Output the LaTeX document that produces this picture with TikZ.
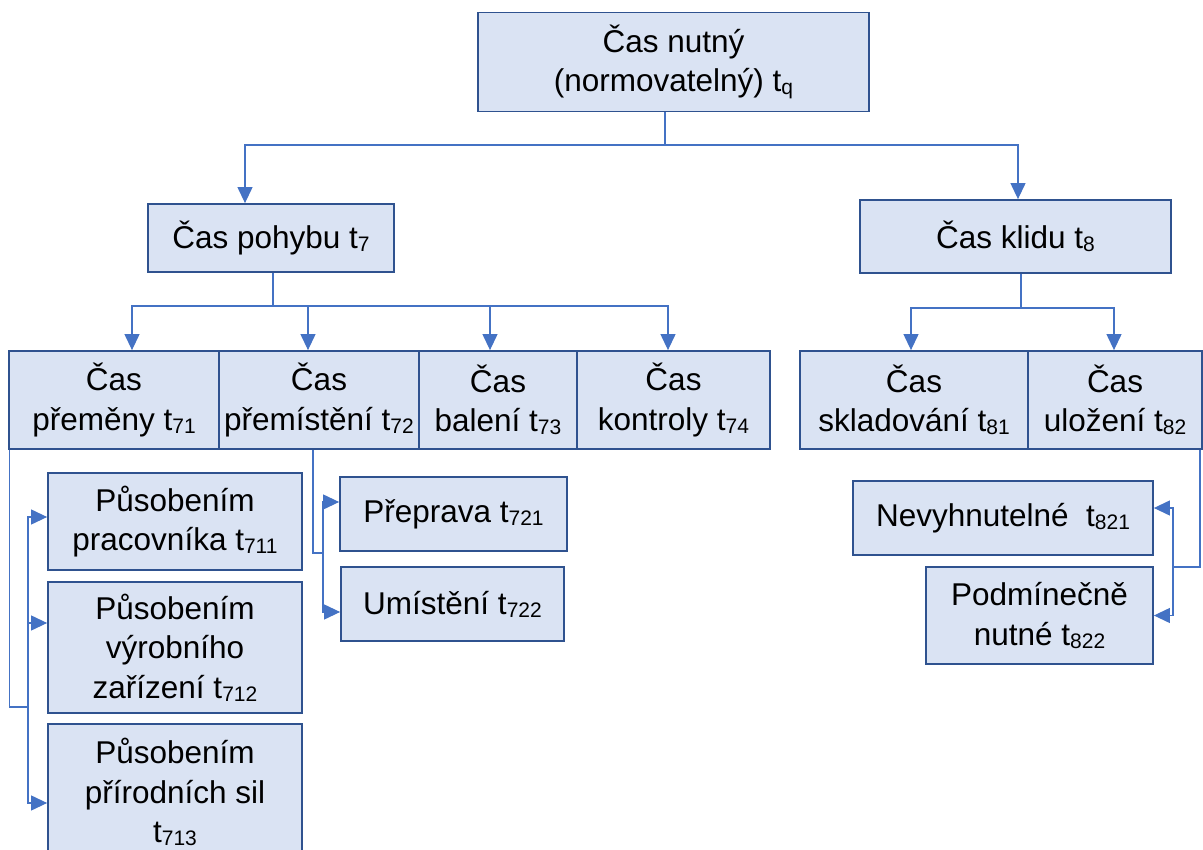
\documentclass[tikz,border=0pt]{standalone}
\usepackage{fontspec}
\setmainfont{Liberation Sans}
\usetikzlibrary{arrows.meta}
\definecolor{boxfill}{HTML}{DAE3F3}
\definecolor{boxline}{HTML}{2F528F}
\definecolor{connline}{HTML}{4472C4}
\newcommand\idx[1]{{\fontsize{21}{21}\selectfont\raisebox{-3pt}{#1}}}
\begin{document}
\begin{tikzpicture}[x=1pt,y=-1pt,
  box/.style={draw=boxline, line width=1.8pt, fill=boxfill, rectangle,
    inner sep=0pt, align=center, font=\fontsize{31.5}{39.5}\selectfont},
  line/.style={draw=connline, line width=1.2pt},
  arr/.style={line, -{Triangle[length=16pt,width=15pt]}}]
\useasboundingbox (0,0) rectangle (1203,850);

% top level
\node[box, minimum width=391pt, minimum height=99pt] (top) at (673.5,62) {Čas nutný\\(normovatelný) t\idx{q}};

% second level
\node[box, minimum width=246pt, minimum height=68pt] (pohyb) at (271,238) {Čas pohybu t\idx{7}};
\node[box, minimum width=311pt, minimum height=73pt] (klid) at (1015.5,236.5) {Čas klidu t\idx{8}};

% third level
\node[box, minimum width=210pt, minimum height=98pt] (t71) at (114,400) {Čas\\přeměny t\idx{71}};
\node[box, minimum width=200pt, minimum height=98pt] (t72) at (319,400) {Čas\\přemístění t\idx{72}};
\node[box, minimum width=158pt, minimum height=98pt] (t73) at (498,400) {Čas\\balení t\idx{73}};
\node[box, minimum width=193pt, minimum height=98pt] (t74) at (673.5,400) {Čas\\kontroly t\idx{74}};
\node[box, minimum width=228pt, minimum height=98pt] (t81) at (914,400) {Čas\\skladování t\idx{81}};
\node[box, minimum width=174pt, minimum height=98pt] (t82) at (1115,400) {Čas\\uložení t\idx{82}};

% fourth level
\node[box, minimum width=254pt, minimum height=97pt] (t711) at (175,521.5) {Působením\\pracovníka t\idx{711}};
\node[box, minimum width=254pt, minimum height=131pt] (t712) at (175,647.5) {Působením\\výrobního\\zařízení t\idx{712}};
\node[box, minimum width=254pt, minimum height=136pt] (t713) at (175,792) {Působením\\přírodních sil\\t\idx{713}};
\node[box, minimum width=227pt, minimum height=74pt] (t721) at (453.5,514) {Přeprava t\idx{721}};
\node[box, minimum width=223pt, minimum height=74pt] (t722) at (452.5,604) {Umístění t\idx{722}};
\node[box, minimum width=300pt, minimum height=74pt] (t821) at (1003,518) {Nevyhnutelné\ \ t\idx{821}};
\node[box, minimum width=227pt, minimum height=97pt] (t822) at (1039.5,615.5) {Podmínečně\\nutné t\idx{822}};

% junctions
\coordinate (j1) at (665,145);
\coordinate (j2) at (273,306);
\coordinate (j3) at (1021,308);
\coordinate (b1) at (28,707);
\coordinate (b2) at (323,553);
\coordinate (b3) at (1173,567);

% top to second level
\draw[line] (top.south -| j1) -- (j1);
\draw[arr] (j1) -| ([xshift=-26pt]pohyb.north);
\draw[arr] (j1) -| ([xshift=2.5pt]klid.north);

% movement branches
\draw[line] (pohyb.south -| j2) -- (j2);
\draw[arr] (j2) -| ([xshift=18pt]t71.north);
\draw[arr] (j2) -| ([xshift=-11pt]t72.north);
\draw[arr] (j2) -| ([xshift=-8pt]t73.north);
\draw[arr] (j2) -| ([xshift=-5.5pt]t74.north);

% rest branches
\draw[line] (klid.south -| j3) -- (j3);
\draw[arr] (j3) -| ([xshift=-3pt]t81.north);
\draw[arr] (j3) -| ([xshift=-1pt]t82.north);

% transformation bracket
\draw[line] ([xshift=1pt]t71.south west) |- (b1);
\draw[arr] (b1) |- ([yshift=4.5pt]t711.west);
\draw[arr] (b1) |- ([yshift=24.5pt]t712.west);
\draw[arr] (b1) |- ([yshift=-11pt]t713.west);

% relocation bracket
\draw[line] ([xshift=-6pt]t72.south) |- (b2);
\draw[arr] (b2) |- ([yshift=12pt]t721.west);
\draw[arr] (b2) |- ([yshift=-8pt]t722.west);

% storage bracket
\draw[line] ([xshift=-3pt]t82.south east) |- (b3);
\draw[arr] (b3) |- ([yshift=10pt]t821.east);
\draw[arr] (b3) |- (t822.east);
\end{tikzpicture}
\end{document}
